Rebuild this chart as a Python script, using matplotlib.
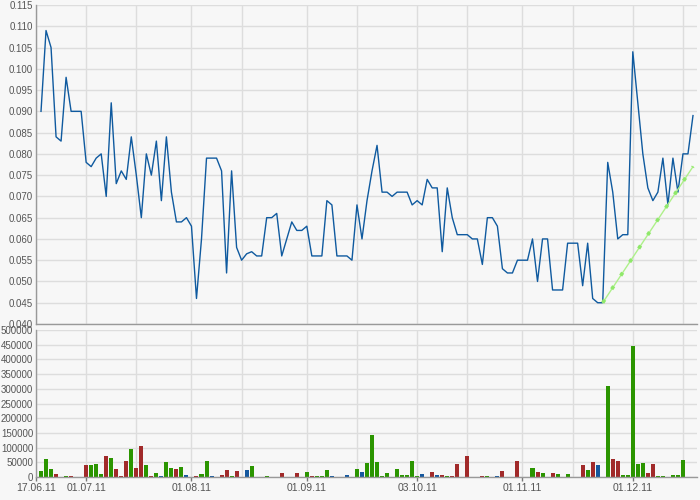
import numpy as np
import matplotlib
matplotlib.use("Agg")
from matplotlib import pyplot as plt

plt.rcParams["font.family"] = ["Liberation Sans", "DejaVu Sans"]

# trading-day index 0 = 17.06.11, last point 131 = 19.12.11
price = [
    np.nan, 0.090, 0.109, 0.105, 0.084, 0.083, 0.098, 0.090, 0.090, 0.090,
    0.078, 0.077, 0.079, 0.080, 0.070, 0.092, 0.073, 0.076, 0.074, 0.084,
    0.075, 0.065, 0.080, 0.075, 0.083, 0.069, 0.084, 0.071, 0.064, 0.064,
    0.065, 0.063, 0.046, 0.060, 0.079, 0.079, 0.079, 0.076, 0.052, 0.076,
    0.058, 0.055, 0.0565, 0.057, 0.056, 0.056, 0.065, 0.065, 0.066, 0.056,
    0.060, 0.064, 0.062, 0.062, 0.063, 0.056, 0.056, 0.056, 0.069, 0.068,
    0.056, 0.056, 0.056, 0.055, 0.068, 0.060, 0.069, 0.076, 0.082, 0.071,
    0.071, 0.070, 0.071, 0.071, 0.071, 0.068, 0.069, 0.068, 0.074, 0.072,
    0.072, 0.057, 0.072, 0.065, 0.061, 0.061, 0.061, 0.060, 0.060, 0.054,
    0.065, 0.065, 0.063, 0.053, 0.052, 0.052, 0.055, 0.055, 0.055, 0.060,
    0.050, 0.060, 0.060, 0.048, 0.048, 0.048, 0.059, 0.059, 0.059, 0.049,
    0.059, 0.046, 0.045, 0.045, 0.078, 0.071, 0.060, 0.061, 0.061, 0.104,
    0.092, 0.080, 0.072, 0.069, 0.071, 0.079, 0.068, 0.079, 0.071, 0.080,
    0.080, 0.089,
]

volume = [
    0, 19000, 61000, 27000, 10000, 0, 3000, 3000, 0, 0,
    41000, 41000, 44000, 10000, 71000, 64000, 27000, 3000, 54000, 95000,
    31000, 105000, 41000, 3000, 13000, 3000, 51000, 31000, 27000, 34000,
    7000, 0, 5000, 10000, 54000, 3000, 0, 7000, 24000, 3000,
    20000, 0, 24000, 37000, 0, 0, 3000, 0, 0, 14000,
    0, 0, 14000, 0, 17000, 3000, 3000, 3000, 24000, 3000,
    0, 0, 7000, 0, 27000, 17000, 47000, 142000, 51000, 3000,
    14000, 0, 27000, 7000, 7000, 54000, 3000, 10000, 0, 17000,
    7000, 7000, 3000, 3000, 44000, 0, 71000, 0, 0, 3000,
    3000, 0, 3000, 20000, 0, 0, 54000, 0, 0, 31000,
    17000, 14000, 0, 14000, 10000, 0, 10000, 0, 0, 41000,
    24000, 51000, 41000, 0, 310000, 61000, 54000, 7000, 7000, 446000,
    44000, 48000, 14000, 44000, 3000, 3000, 0, 7000, 7000, 58000,
    0, 0,
]

# g = up, r = down, b = unchanged
vol_kind = (
    "-gggr-gr--"
    "rgggrgrrrg"
    "rrgrgbggrg"
    "b-rggb-rrg"
    "r-bg--g--r"
    "--r-grgggb"
    "--b-gbgggg"
    "g-gggggb-r"
    "brgrr-r--r"
    "g-br--r--g"
    "rg-rg-g--r"
    "grb-grrggg"
    "ggrrgg-ggg"
    "--"
)

trend_x = [113, 131]
trend_y = [0.045, 0.077]

label_pos = [0, 10, 31, 54, 76, 97, 119]
label_txt = ["17.06.11", "01.07.11", "01.08.11", "01.09.11", "03.10.11", "01.11.11", "01.12.11"]
grid_pos = [20, 41, 64, 86, 107, 129]

kind_colors = {"g": "#2b9500", "r": "#a12a2a", "b": "#15589e", "-": "#f7f7f7"}

idx = np.arange(len(price))
bg = "#f7f7f7"
gridc = "#dddddd"
textc = "#555555"

fig = plt.figure(figsize=(7, 5), dpi=100, facecolor=bg)
ax1 = fig.add_axes([36 / 700, 1 - 324 / 500, 661 / 700, 319 / 500])
ax2 = fig.add_axes([36 / 700, 1 - 477 / 500, 661 / 700, 147 / 500])

for ax in (ax1, ax2):
    ax.set_facecolor(bg)
    ax.set_xlim(0, 131.8)
    ax.set_xticks(label_pos)
    ax.set_xticks(grid_pos, minor=True)
    ax.grid(True, which="both", color=gridc, lw=1)
    ax.set_axisbelow(True)
    for s in ("top", "right"):
        ax.spines[s].set_visible(False)
    for s in ("left", "bottom"):
        ax.spines[s].set_color("#999999")
        ax.spines[s].set_linewidth(1)
    ax.tick_params(axis="y", length=0, pad=2, labelsize=7, labelcolor=textc)
    ax.tick_params(axis="x", which="minor", length=0)

# price panel
ax1.plot(idx, price, color="#0f5a9f", lw=1.0)
ax1.plot(trend_x, trend_y, color="#aef08a", lw=1.0)
ax1.plot(trend_x, trend_y, color="#8fe86a", lw=2.6, linestyle=(0, (1, 3.5)))
ax1.set_ylim(0.040, 0.115)
ax1.set_yticks(np.arange(0.040, 0.1151, 0.005))
ax1.yaxis.set_major_formatter(matplotlib.ticker.FormatStrFormatter("%.3f"))
ax1.tick_params(axis="x", length=0, labelbottom=False)

# volume panel
bar_colors = [kind_colors[k] for k in vol_kind]
ax2.bar(idx, volume, width=0.8, color=bar_colors, linewidth=0)
ax2.set_ylim(0, 500000)
ax2.set_yticks(np.arange(0, 500001, 50000))
ax2.yaxis.set_major_formatter(matplotlib.ticker.FormatStrFormatter("%d"))
ax2.set_xticklabels(label_txt)
ax2.tick_params(axis="x", length=3, width=1, color="#777777", pad=1,
                labelsize=7.5, labelcolor=textc)

fig.savefig("out.png", dpi=100, facecolor=bg)
